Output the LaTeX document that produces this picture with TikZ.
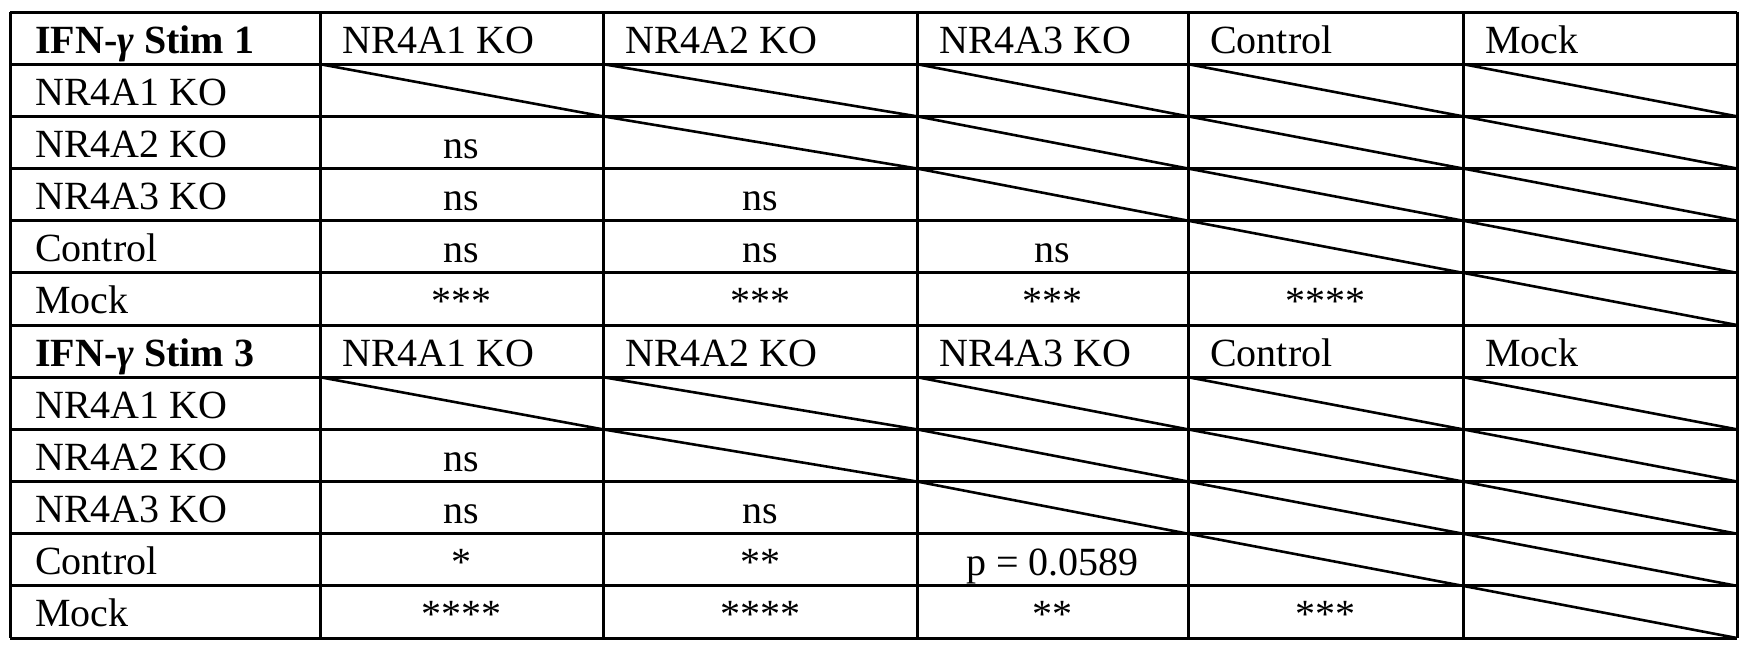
\documentclass[tikz,border=0pt]{standalone}
\usepackage{fontspec}
\setmainfont{Liberation Serif}
\begin{document}
\begin{tikzpicture}[x=1pt,y=-1pt,
  grid/.style={line width=3pt},
  diag/.style={line width=2.6pt},
  lab/.style={anchor=base west,inner sep=0pt,font=\fontsize{40}{40}\selectfont},
  val/.style={anchor=base,inner sep=0pt,font=\fontsize{40}{40}\selectfont}]
\useasboundingbox (0,0) rectangle (1740,649);
\def\xs{{10,320,603,917,1188,1463,1737}}
\def\rh{52.17}
% grid
\foreach \r in {0,...,12} \draw[grid] (10,{12+\r*\rh}) -- (1737,{12+\r*\rh});
\foreach \i in {0,...,6} {\pgfmathsetmacro\xx{\xs[\i]}\draw[grid] (\xx,12) -- (\xx,638);}
% diagonals
\foreach \b in {0,6} \foreach \c in {1,...,5} \foreach \r in {1,...,5} {
  \ifnum\r>\c\relax\else
  \pgfmathsetmacro\xa{\xs[\c]}\pgfmathsetmacro\xb{\xs[\c+1]}
  \draw[diag] (\xa,{12+(\b+\r)*\rh}) -- (\xb,{12+(\b+\r+1)*\rh});
  \fi}
% headers
\foreach \b/\n in {0/1,6/3} {
  \node[lab] (h\n) at (35,{12+\b*\rh+41}) {\textbf{IFN-\textit{\char"03B3} Stim \n}};
  \foreach \t [count=\c] in {NR4A1 KO,NR4A2 KO,NR4A3 KO,Control,Mock} {
    \pgfmathsetmacro\xa{\xs[\c]}
    \node[lab] (c\n\c) at (\xa+22,{12+\b*\rh+41}) {\t};
    \node[lab] (r\n\c) at (35,{12+(\b+\c)*\rh+41}) {\t};}
}
% values
\def\vv#1#2#3#4{\pgfmathsetmacro\xa{\xs[#2]}\pgfmathsetmacro\xb{\xs[#2+1]}\pgfmathsetmacro\xm{(\xa+\xb)/2}\node[val] (v#1#2#3) at (\xm,{12+(#1+#3)*\rh+42}) {#4};}
\vv{0}{1}{2}{ns}\vv{0}{1}{3}{ns}\vv{0}{1}{4}{ns}\vv{0}{1}{5}{***}
\vv{0}{2}{3}{ns}\vv{0}{2}{4}{ns}\vv{0}{2}{5}{***}
\vv{0}{3}{4}{ns}\vv{0}{3}{5}{***}
\vv{0}{4}{5}{****}
\vv{6}{1}{2}{ns}\vv{6}{1}{3}{ns}\vv{6}{1}{4}{*}\vv{6}{1}{5}{****}
\vv{6}{2}{3}{ns}\vv{6}{2}{4}{**}\vv{6}{2}{5}{****}
\vv{6}{3}{4}{p = 0.0589}\vv{6}{3}{5}{**}
\vv{6}{4}{5}{***}
\end{tikzpicture}
\end{document}
